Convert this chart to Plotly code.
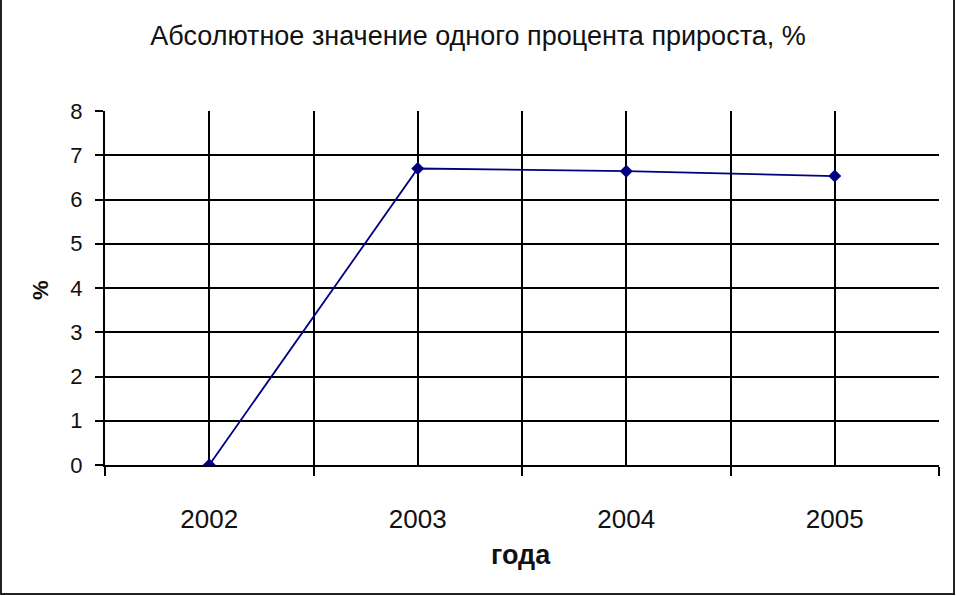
import plotly.graph_objects as go

years = ["2002", "2003", "2004", "2005"]
values = [0.0, 6.70, 6.64, 6.53]
y_ticks = [0, 1, 2, 3, 4, 5, 6, 7, 8]

x_pos = list(range(len(years)))
boundaries = [i - 0.5 for i in range(len(years) + 1)]

W, H = 956, 596
L, R, T, B = 105, 17, 111, 131
pw, ph = W - L - R, H - T - B

def px_x(px):
    return (px - L) / pw

def px_y(py):
    return (H - B - py) / ph

fig = go.Figure()
fig.add_trace(go.Scatter(
    x=x_pos, y=values, mode="lines+markers",
    line=dict(color="#000080", width=1.8),
    marker=dict(symbol="diamond", size=10, color="#000080"),
    showlegend=False, hoverinfo="skip",
))

font = "Liberation Sans, Arial, sans-serif"

fig.update_layout(
    width=W, height=H,
    margin=dict(l=L, r=R, t=T, b=B),
    paper_bgcolor="white", plot_bgcolor="white",
    title=dict(text="Абсолютное значение одного процента прироста, %",
               x=0.5, xanchor="center", y=1 - 36 / H, yanchor="middle",
               font=dict(family=font, size=27, color="#111")),
    xaxis=dict(
        range=[-0.5, 3.5], tickmode="array", tickvals=x_pos, ticktext=years,
        showgrid=True, gridcolor="black", gridwidth=1.5, ticks="",
        ticklabelstandoff=30,
        tickfont=dict(family=font, size=26, color="#111"),
        showline=True, linecolor="black", linewidth=2,
        zeroline=False, fixedrange=True,
        minor=dict(tickmode="array", tickvals=boundaries, showgrid=True,
                   gridcolor="black", gridwidth=1.5, ticks="outside",
                   ticklen=9, tickwidth=1.5, tickcolor="black"),
    ),
    yaxis=dict(
        range=[0, 8], tickmode="array", tickvals=y_ticks,
        showgrid=True, gridcolor="black", gridwidth=1.5,
        ticks="outside", ticklen=8, tickwidth=1.5, tickcolor="black",
        ticklabelstandoff=8,
        tickfont=dict(family=font, size=22, color="#111"),
        showline=True, linecolor="black", linewidth=2,
        zeroline=False, fixedrange=True,
    ),
    annotations=[
        dict(text="<b>года</b>", xref="paper", yref="paper",
             x=px_x(521), y=px_y(555), xanchor="center", yanchor="middle",
             showarrow=False, font=dict(family=font, size=27, color="#111")),
        dict(text="<b>%</b>", xref="paper", yref="paper",
             x=px_x(40), y=px_y(290), xanchor="center", yanchor="middle",
             textangle=-90, showarrow=False,
             font=dict(family=font, size=22, color="#111")),
    ],
    shapes=[
        dict(type="rect", xref="paper", yref="paper",
             x0=px_x(1), x1=px_x(954), y0=px_y(594), y1=px_y(-2),
             line=dict(color="#222", width=2), fillcolor="rgba(0,0,0,0)", layer="below"),
    ],
)

fig.write_html("out.html", config={"displayModeBar": False},
               post_script="document.body.style.margin='0';")
